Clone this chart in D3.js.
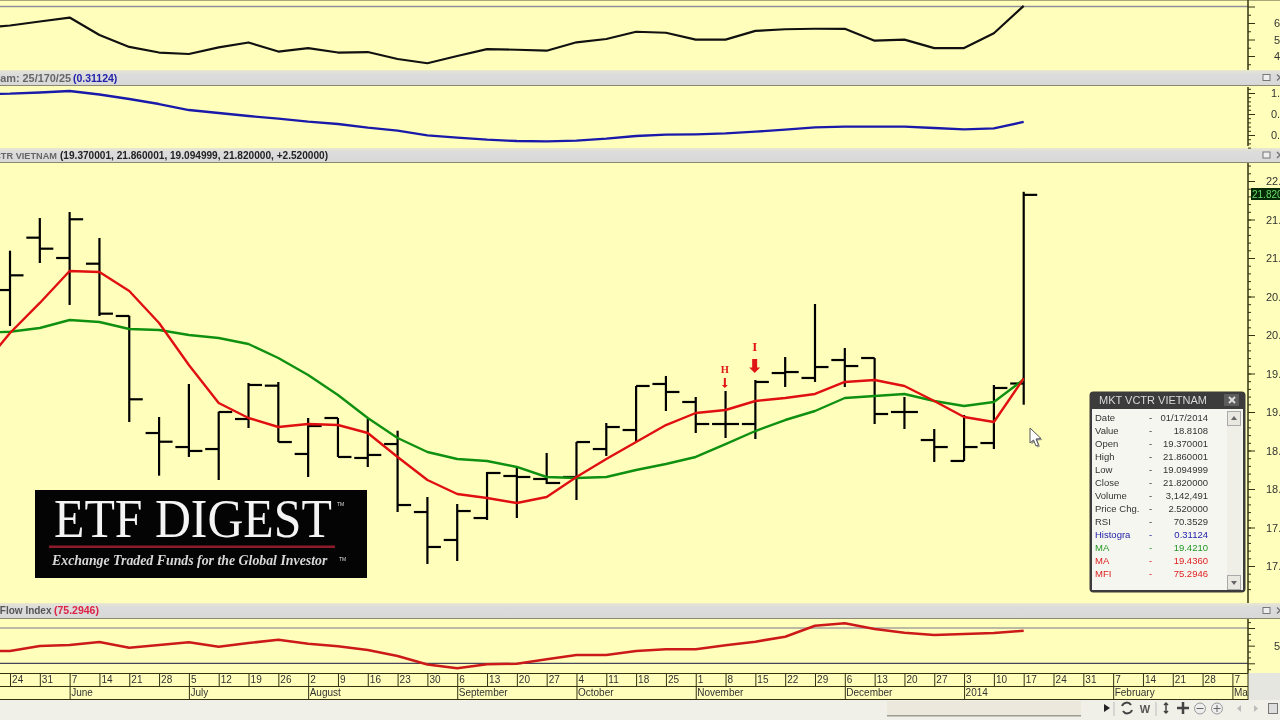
<!DOCTYPE html>
<html><head><meta charset="utf-8">
<script src="https://cdn.jsdelivr.net/npm/d3@7"></script>
<style>
html,body{margin:0;padding:0;background:#f0f0e8;overflow:hidden}
svg{display:block;font-family:"Liberation Sans",Arial,sans-serif;filter:blur(0.35px)}
.axis path,.axis line{stroke:#333311}
.axis text{fill:#333;font-size:11px;font-family:"Liberation Sans",sans-serif}
</style></head><body><svg id="c" width="1280" height="720"></svg>
<script>
// ---------- data (weekly, MKT VCTR VIETNAM) ----------
const lineDates = ["2013-05-17","2013-05-24","2013-05-31","2013-06-07","2013-06-14","2013-06-21","2013-06-28","2013-07-05","2013-07-12","2013-07-19","2013-07-26","2013-08-02","2013-08-09","2013-08-16","2013-08-23","2013-08-30","2013-09-06","2013-09-13","2013-09-20","2013-09-27","2013-10-04","2013-10-11","2013-10-18","2013-10-25","2013-11-01","2013-11-08","2013-11-15","2013-11-22","2013-11-29","2013-12-06","2013-12-13","2013-12-20","2013-12-27","2014-01-03","2014-01-10","2014-01-17"];
const opens  = [20.584,21.264,21.0,20.926,20.247,18.727,18.545,18.519,18.909,19.342,18.455,18.922,18.403,18.584,17.701,17.338,17.623,18.169,18.13,18.156,18.519,18.766,19.364,19.13,18.844,18.844,19.506,19.442,19.675,19.701,19.0,18.636,18.364,18.597,19.37];
const highs  = [21.095,21.519,21.597,21.26,20.251,18.935,19.364,19.004,19.377,19.39,18.922,18.922,18.909,18.757,17.896,17.805,18.221,18.286,18.468,18.61,18.857,19.338,19.468,19.195,19.273,19.416,19.714,20.403,19.831,19.701,19.195,18.779,18.961,19.351,21.86];
const lows   = [20.117,20.935,20.39,20.247,18.87,18.173,18.416,18.117,18.792,18.61,18.156,18.416,18.286,17.701,17.026,17.065,17.597,17.623,18.065,17.857,18.429,18.61,19.013,18.727,18.662,18.649,19.325,19.39,19.325,18.844,18.779,18.351,18.364,18.519,19.095];
const closes = [20.775,21.121,21.503,20.277,19.165,18.614,18.494,19.0,19.351,18.61,18.818,18.416,18.442,17.792,17.247,17.714,18.208,18.156,18.078,18.61,18.805,19.338,19.26,18.844,18.844,19.39,19.519,19.584,19.597,18.974,19.0,18.545,18.545,19.312,21.82];
const maRed   = [19.56,20.026,20.416,20.831,20.818,20.571,20.156,19.61,19.117,18.922,18.805,18.844,18.831,18.727,18.416,18.117,17.935,17.883,17.818,17.896,18.156,18.39,18.61,18.831,18.987,19.026,19.143,19.182,19.234,19.39,19.416,19.338,19.143,18.935,18.87,19.436];
const maGreen = [20.026,20.043,20.091,20.195,20.169,20.078,20.065,20.0,19.961,19.883,19.701,19.481,19.221,18.922,18.662,18.481,18.39,18.364,18.286,18.156,18.143,18.156,18.247,18.325,18.416,18.584,18.753,18.896,19.013,19.182,19.208,19.234,19.143,19.078,19.13,19.421];
const rsi = [56.7,58.5,60.9,63.3,52.7,45.5,42.1,41.2,45.2,48.2,42.7,44.8,42.1,42.4,38.2,35.6,40,44.2,43.8,43.2,48.3,50.3,54.7,54.1,49.9,49.9,55.2,56.2,56.5,56.5,49.3,49.9,44.8,44.8,53.8,70.35];
const histo = [.976,.983,1.012,1.048,.964,.857,.738,.595,.524,.452,.388,.317,.262,.174,.102,-.007,-.064,-.112,-.143,-.15,-.136,-.088,-.024,.007,.017,.04,.079,.126,.183,.198,.198,.198,.167,.136,.16,.31124];
const mfi = [40.9,40.9,49.4,51.1,56.2,46.5,51.1,55.7,48.2,54.5,60.1,53.3,48.9,42.6,32.4,17.9,11.5,18.3,19.3,26.8,34.1,34.1,40.9,43.8,43.8,50.6,56.7,65.2,83.9,88,78.3,72,68.1,69.8,71.5,75.29];
const axisDates = ["2013-05-24","2013-05-31","2013-06-07","2013-06-14","2013-06-21","2013-06-28","2013-07-05","2013-07-12","2013-07-19","2013-07-26","2013-08-02","2013-08-09","2013-08-16","2013-08-23","2013-08-30","2013-09-06","2013-09-13","2013-09-20","2013-09-27","2013-10-04","2013-10-11","2013-10-18","2013-10-25","2013-11-01","2013-11-08","2013-11-15","2013-11-22","2013-11-29","2013-12-06","2013-12-13","2013-12-20","2013-12-27","2014-01-03","2014-01-10","2014-01-17","2014-01-24","2014-01-31","2014-02-07","2014-02-14","2014-02-21","2014-02-28","2014-03-07"];
const dayLabels = ["24","31","7","14","21","28","5","12","19","26","2","9","16","23","30","6","13","20","27","4","11","18","25","1","8","15","22","29","6","13","20","27","3","10","17","24","31","7","14","21","28","7"];
const monthDates = ["2013-06-07","2013-07-05","2013-08-02","2013-09-06","2013-10-04","2013-11-01","2013-12-06","2014-01-03","2014-02-07","2014-03-07"];
const monthLabels = ["June","July","August","September","October","November","December","2014","February","Ma"];
const markerDates = ["2013-11-08","2013-11-15"];
const markerLabels = ["H","I"];
const markerPrices = [19.273,19.416];
const infoLabels = ["Date","Value","Open","High","Low","Close","Volume","Price Chg.","RSI","Histogra","MA","MA","MFI"];
const infoValues = ["01/17/2014","18.8108","19.370001","21.860001","19.094999","21.820000","3,142,491","2.520000","70.3529","0.31124","19.4210","19.4360","75.2946"];
const infoColors = ["#333","#333","#333","#333","#333","#333","#333","#333","#333","#2222aa","#229922","#dd2222","#dd2222"];

// ---------- styles / layout ----------
const BG="#ffffbb", AX=1248;
const parse=d3.utcParse("%Y-%m-%d");
const svg=d3.select("#c");
const defs=svg.append("defs");
defs.append("clipPath").attr("id","plot").append("rect").attr("x",0).attr("y",0).attr("width",AX).attr("height",720);
const soft=svg.append("g").attr("id","root");
const x=d3.scaleUtc().domain([parse("2013-05-24"),parse("2014-01-17")]).range([10,1023.7]);
const yRsi=d3.scaleLinear().domain([60,40]).range([23,56]);
const yHist=d3.scaleLinear().domain([1,0]).range([93,135]);
const yPrice=d3.scaleLinear().domain([22,17]).range([181,566]);
const yMfi=d3.scaleLinear().domain([80,20]).range([628,663.3]);
const lineDatesP=lineDates.map(parse), barDates=lineDatesP.slice(1);

soft.append("rect").attr("width",1280).attr("height",720).attr("fill","#f0f0e8");
soft.append("rect").attr("width",1280).attr("height",700).attr("fill",BG);
soft.append("rect").attr("width",1280).attr("height",1).attr("fill","#a8a878");

// panel headers
const headers=[[70,86],[148,163],[603,619]];
const hg=defs.append("linearGradient").attr("id","hdr").attr("x1",0).attr("x2",0).attr("y1",0).attr("y2",1);
hg.append("stop").attr("offset",0).attr("stop-color","#e8e8d0");
hg.append("stop").attr("offset",.25).attr("stop-color","#dcdcdc");
hg.append("stop").attr("offset",1).attr("stop-color","#d8d8d8");
headers.forEach(([a,b])=>{
  soft.append("rect").attr("x",0).attr("y",a).attr("width",1280).attr("height",b-a).attr("fill","url(#hdr)");
  soft.append("rect").attr("x",0).attr("y",b-1).attr("width",1280).attr("height",1).attr("fill","#8a8a70");
  const cy=(a+b)/2-.5;
  soft.append("rect").attr("x",1263).attr("y",cy-3).attr("width",7).attr("height",6).attr("fill","#eee").attr("stroke","#777");
  soft.append("path").attr("d",`M1277 ${cy-3}l6 6M1283 ${cy-3}l-6 6`).attr("stroke","#777").attr("stroke-width",1.5);
});
function hdrText(xp,y,t,fill,anchor,fs){soft.append("text").attr("x",xp).attr("y",y).attr("text-anchor",anchor||"start")
  .attr("font-size",fs||10.5).attr("font-weight","bold").attr("fill",fill).text(t);}
hdrText(71,82,"Histogram: 25/170/25","#666","end",10.9);
hdrText(73,82,"(0.31124)","#2222aa");
hdrText(57,159,"MKT VCTR VIETNAM","#666","end",9.2);
hdrText(60,159,"(19.370001, 21.860001, 19.094999, 21.820000, +2.520000)","#222","start",10.1);
hdrText(51.5,614,"Money Flow Index","#555","end",10);
hdrText(54,614,"(75.2946)","#dd2244");

// level lines
soft.append("line").attr("x1",0).attr("x2",AX).attr("y1",yRsi(70)).attr("y2",yRsi(70)).attr("stroke","#8f8f9a").attr("stroke-width",1.5);
soft.append("line").attr("x1",0).attr("x2",AX).attr("y1",yMfi(80)).attr("y2",yMfi(80)).attr("stroke","#77778f").attr("stroke-width",1.2);
soft.append("line").attr("x1",0).attr("x2",AX).attr("y1",yMfi(20)).attr("y2",yMfi(20)).attr("stroke","#44445a").attr("stroke-width",1.2);

// value axes
function vAxis(scale,majors,minors,fmt,labelX,top,bottom,labelled){
  const g=soft.append("g").attr("class","axis").attr("transform",`translate(${AX},0)`);
  const minorAx=d3.axisRight(scale).tickValues(minors).tickSize(3).tickFormat("");
  const a=g.append("g").call(minorAx); a.select(".domain").remove();
  const majorAx=d3.axisRight(scale).tickValues(majors).tickSize(7).tickFormat(d=>labelled.includes(d)?fmt(d):"");
  const b=g.append("g").call(majorAx); b.select(".domain").remove();
  b.selectAll("text").attr("x",labelX-AX).attr("text-anchor","start");
  g.append("line").attr("x1",0).attr("x2",0).attr("y1",top).attr("y2",bottom).attr("stroke","#333311").attr("stroke-width",1.5);
}
vAxis(yRsi,[70,60,50,40],[65,55,45,35,75],d3.format(".2f"),1274,0,70,[60,50,40]);
vAxis(yHist,[1,.5,0],[1.1,.9,.8,.7,.6,.4,.3,.2,.1,-.1,-.2,-.3],d3.format(".2f"),1271,87,146,[1,.5,0]);
vAxis(yPrice,d3.range(17,22.5,.5),d3.range(16.7,22.25,.1),d3.format(".2f"),1266,163,603,d3.range(17,22.5,.5));
vAxis(yMfi,[80,50,20],[90,70,60,40,30,10],d3.format(".2f"),1274,619,673,[50]);

// price badge
soft.append("rect").attr("x",1251).attr("y",188).attr("width",29).attr("height",12).attr("fill","#062a06");
soft.append("text").attr("x",1252).attr("y",198).attr("font-size",10).attr("fill","#66dd66").text("21.8200");

// plot
const plot=soft.append("g").attr("clip-path","url(#plot)");
function seriesLine(values,y,color,w){
  plot.append("path").datum(values).attr("fill","none").attr("stroke",color).attr("stroke-width",w).attr("stroke-linejoin","round")
    .attr("d",d3.line().x((d,i)=>x(lineDatesP[i])).y(d=>y(d)));
}
seriesLine(rsi,yRsi,"#111",2.2);
seriesLine(histo,yHist,"#1a1aaa",2.3);
seriesLine(mfi,yMfi,"#cc1a1a",2.6);

// OHLC bars
const bars=plot.append("g").attr("stroke","#000").attr("stroke-width",2.2).selectAll("g").data(barDates).join("g");
bars.append("line").attr("x1",d=>x(d)).attr("x2",d=>x(d)).attr("y1",(d,i)=>yPrice(highs[i])).attr("y2",(d,i)=>yPrice(lows[i]));
bars.append("line").attr("x1",d=>x(d)-13.5).attr("x2",d=>x(d)).attr("y1",(d,i)=>yPrice(opens[i])).attr("y2",(d,i)=>yPrice(opens[i]));
bars.append("line").attr("x1",d=>x(d)).attr("x2",d=>x(d)+13.5).attr("y1",(d,i)=>yPrice(closes[i])).attr("y2",(d,i)=>yPrice(closes[i]));
seriesLine(maGreen,yPrice,"#109010",2.4);
seriesLine(maRed,yPrice,"#e01010",2.4);

// signal markers
markerDates.forEach((d,i)=>{
  const cx=x(parse(d))-.7, top=yPrice(markerPrices[i]);
  const big=markerLabels[i]==="I";
  const g=plot.append("g").attr("fill","#e01515");
  const tip=top-(big?7:3), len=big?14:10, sw=big?2.5:1, hw=big?5.5:3;
  g.append("path").attr("d",`M${cx-sw} ${tip-len}H${cx+sw}V${tip-hw}H${cx+hw}L${cx} ${tip}L${cx-hw} ${tip-hw}H${cx-sw}Z`);
  g.append("text").attr("x",cx).attr("y",tip-len-(big?8:4.5)).attr("text-anchor","middle").attr("font-size",big?13:10.5)
    .attr("font-weight","bold").attr("font-family","Liberation Serif,serif").text(markerLabels[i]);
});

// date axis
const axisG=soft.append("g");
axisG.append("rect").attr("x",0).attr("y",673).attr("width",AX).attr("height",27).attr("fill",BG);
const dd=axisDates.map(parse);
const dayAx=d3.axisBottom(x).tickValues(dd).tickSize(13).tickFormat((d,i)=>dayLabels[i]);
const dG=axisG.append("g").attr("class","axis").attr("transform","translate(0,673.5)").call(dayAx);
dG.select(".domain").remove();
dG.selectAll("text").attr("text-anchor","start").attr("x",1.5).attr("y",2.5).attr("dy",".71em").style("font-size","10px").attr("letter-spacing",.1);
const mDates=monthDates.map(parse);
const monAx=d3.axisBottom(x).tickValues(mDates).tickSize(13).tickFormat((d,i)=>monthLabels[i]);
const mG=axisG.append("g").attr("class","axis").attr("transform","translate(0,686.5)").call(monAx);
mG.select(".domain").remove();
mG.selectAll("text").attr("text-anchor","start").attr("x",1).attr("y",2).attr("dy",".71em").style("font-size","10px");
[673.5,686.5,699.5].forEach(y=>axisG.append("line").attr("x1",0).attr("x2",AX).attr("y1",y).attr("y2",y).attr("stroke","#333311"));
axisG.append("rect").attr("x",AX).attr("y",673).attr("width",32).attr("height",27).attr("fill","#e6e6e0");
axisG.append("line").attr("x1",AX).attr("x2",AX).attr("y1",673).attr("y2",700).attr("stroke","#333311");

// logo
const logo=soft.append("g");
logo.append("rect").attr("x",35).attr("y",490).attr("width",332).attr("height",88).attr("fill","#040404");
logo.append("text").attr("transform","translate(54,537) scale(0.905,1)").attr("font-family","Liberation Serif,serif").attr("font-size",55).attr("fill","#f4f4f4").text("ETF DIGEST");
logo.append("text").attr("x",337).attr("y",506).attr("font-size",5).attr("fill","#ddd").text("TM");
logo.append("rect").attr("x",49).attr("y",545.5).attr("width",286).attr("height",2.5).attr("fill","#8c1c2c");
logo.append("text").attr("transform","translate(52,565) scale(0.955,1)").attr("font-family","Liberation Serif,serif").attr("font-style","italic").attr("font-weight","bold")
  .attr("font-size",14.5).attr("fill","#d8d8d8").text("Exchange Traded Funds for the Global Investor");
logo.append("text").attr("x",339).attr("y",561).attr("font-size",5).attr("fill","#ddd").text("TM");

// info window
const box=soft.append("g");
box.append("rect").attr("x",1089.5).attr("y",391.5).attr("width",156).attr("height",201).attr("rx",4).attr("fill","#3c3c3c");
box.append("rect").attr("x",1092).attr("y",409).attr("width",151).attr("height",181).attr("fill","#f6f6f0");
box.append("text").attr("x",1153).attr("y",404).attr("text-anchor","middle").attr("font-size",11).attr("fill","#d8d8d8").text("MKT VCTR VIETNAM");
box.append("rect").attr("x",1224).attr("y",394).attr("width",15).attr("height",12).attr("fill","#5c5c5c");
box.append("path").attr("d","M1229 397l6 6M1235 397l-6 6").attr("stroke","#ddd").attr("stroke-width",2);
box.append("rect").attr("x",1227).attr("y",411).attr("width",14).attr("height",178).attr("fill","#efefe8");
[[411,"M1231 420l3-4 3 4z"],[575,"M1231 581l3 4 3-4z"]].forEach(([y,p])=>{
  box.append("rect").attr("x",1227.5).attr("y",y+.5).attr("width",13).attr("height",14).attr("fill","#e8e8e0").attr("stroke","#aaa");
  box.append("path").attr("d",p).attr("fill","#666");
});
const rowY=d3.scaleLinear().domain([0,12]).range([421,577]);
infoLabels.forEach((t,i)=>{
  const y=rowY(i), c=infoColors[i];
  box.append("text").attr("x",1095).attr("y",y).attr("font-size",9.5).attr("fill",c).text(t);
  box.append("text").attr("x",1149).attr("y",y).attr("font-size",9.5).attr("fill",c).text("-");
  box.append("text").attr("x",1208).attr("y",y).attr("text-anchor","end").attr("font-size",9.5).attr("fill",c).text(infoValues[i]);
});

// mouse pointer
soft.append("path").attr("d","M1031.5 429.5v15l3.5-3 2.5 6 2.5-1-2.5-6 5-.5z").attr("fill","#999");
soft.append("path").attr("d","M1030 428v15l3.5-3 2.5 6 2.5-1-2.5-6 5-.5z").attr("fill","#fff").attr("stroke","#555").attr("stroke-width",1);

// bottom toolbar
const tb=soft.append("g");
tb.append("rect").attr("x",887).attr("y",701).attr("width",194).attr("height",15).attr("fill","#ece8dc");
tb.append("rect").attr("x",887).attr("y",715).attr("width",194).attr("height",1.5).attr("fill","#9a9a90");
tb.append("path").attr("d","M1104 704l6 4-6 4z").attr("fill","#222");
tb.append("line").attr("x1",1114).attr("x2",1114).attr("y1",702).attr("y2",716).attr("stroke","#bbb");
tb.append("path").attr("d","M1122 706a5 5 0 0 1 9-1M1132 710a5 5 0 0 1-9 1").attr("fill","none").attr("stroke","#444").attr("stroke-width",2);
tb.append("text").attr("x",1145).attr("y",713).attr("text-anchor","middle").attr("font-size",11).attr("font-weight","bold").attr("fill","#555").text("W");
tb.append("line").attr("x1",1156).attr("x2",1156).attr("y1",702).attr("y2",716).attr("stroke","#bbb");
tb.append("path").attr("d","M1166 703v10M1164 705l2-2 2 2M1164 711l2 2 2-2").attr("fill","none").attr("stroke","#444").attr("stroke-width",1.5);
tb.append("path").attr("d","M1183 702v12M1177 708h12").attr("fill","none").attr("stroke","#444").attr("stroke-width",2.5);
[[1200,"M1196.5 708.5h7"],[1217,"M1213.5 708.5h7M1217 705v7"]].forEach(([cx,p])=>{
  tb.append("circle").attr("cx",cx).attr("cy",708.5).attr("r",5.5).attr("fill","#eee").attr("stroke","#999");
  tb.append("path").attr("d",p).attr("stroke","#666");
});
tb.append("path").attr("d","M1241 705l-4 3.5 4 3.5z").attr("fill","#bbb");
tb.append("path").attr("d","M1254 705l4 3.5-4 3.5z").attr("fill","#bbb");
tb.append("rect").attr("x",1268.5).attr("y",703.5).attr("width",9).attr("height",10).attr("fill","#ddd").attr("stroke","#777");
</script></body></html>
